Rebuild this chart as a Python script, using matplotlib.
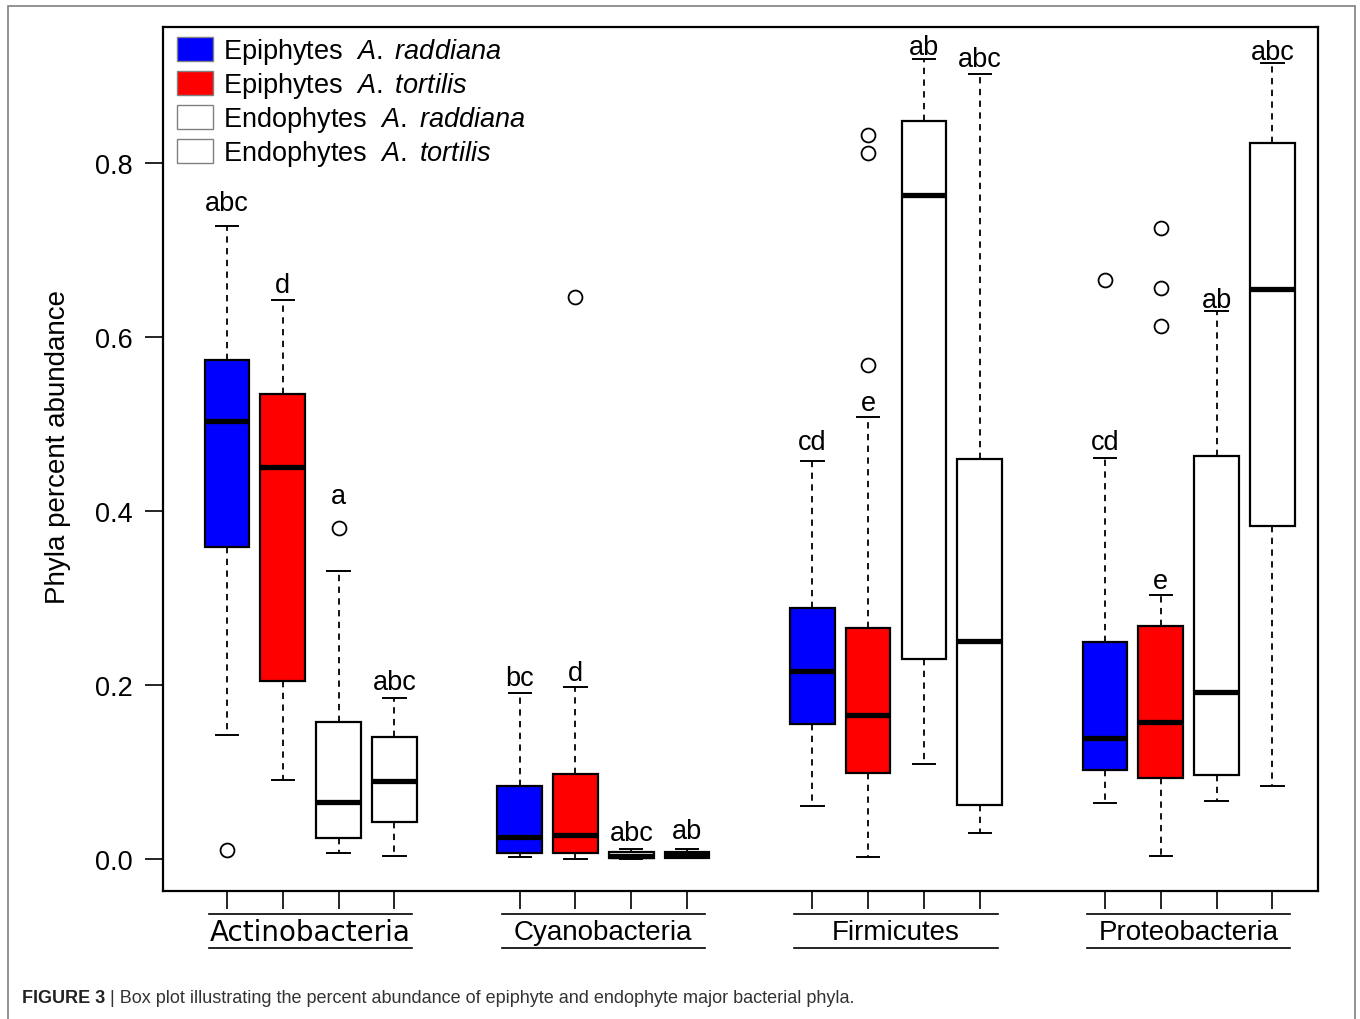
import numpy as np
import matplotlib
matplotlib.use("Agg")
import matplotlib.pyplot as plt
from matplotlib.patches import Patch, Rectangle
from matplotlib.transforms import blended_transform_factory

plt.rcParams['font.family'] = 'Liberation Sans'
plt.rcParams['mathtext.fontset'] = 'custom'
plt.rcParams['mathtext.rm'] = 'Liberation Sans'
plt.rcParams['mathtext.it'] = 'Liberation Sans:italic'

# --- data ---
phyla = ['Actinobacteria', 'Cyanobacteria', 'Firmicutes', 'Proteobacteria']
series = ['Epiphytes', 'Epiphytes', 'Endophytes', 'Endophytes']
species = ['A. raddiana', 'A. tortilis', 'A. raddiana', 'A. tortilis']
colors = ['#0000FF', '#FF0000', 'white', 'white']

whis_lo = [[0.142, 0.091, 0.007, 0.004],
           [0.002, 0.000, 0.000, 0.001],
           [0.061, 0.002, 0.109, 0.030],
           [0.064, 0.004, 0.067, 0.084]]
q1 = [[0.359, 0.205, 0.024, 0.042],
      [0.007, 0.007, 0.001, 0.001],
      [0.155, 0.099, 0.230, 0.062],
      [0.102, 0.093, 0.097, 0.383]]
median = [[0.503, 0.451, 0.066, 0.090],
          [0.025, 0.028, 0.004, 0.005],
          [0.216, 0.165, 0.763, 0.251],
          [0.139, 0.158, 0.192, 0.655]]
q3 = [[0.574, 0.535, 0.157, 0.140],
      [0.084, 0.098, 0.008, 0.008],
      [0.288, 0.265, 0.848, 0.460],
      [0.249, 0.268, 0.463, 0.823]]
whis_hi = [[0.728, 0.642, 0.331, 0.185],
           [0.191, 0.198, 0.012, 0.012],
           [0.457, 0.508, 0.919, 0.902],
           [0.461, 0.303, 0.630, 0.915]]
outliers = [[[0.010], [], [0.380], []],
            [[], [0.646], [], []],
            [[], [0.568, 0.811, 0.832], [], []],
            [[0.665], [0.613, 0.656, 0.725], [], []]]
letters = [['abc', 'd', 'a', 'abc'],
           ['bc', 'd', 'abc', 'ab'],
           ['cd', 'e', 'ab', 'abc'],
           ['cd', 'e', 'ab', 'abc']]
letter_y = [[0.746, 0.652, 0.409, 0.195],
            [0.200, 0.206, 0.022, 0.024],
            [0.471, 0.516, 0.925, 0.911],
            [0.471, 0.312, 0.635, 0.920]]

group_step = 5.245

fig = plt.figure(figsize=(13.6, 10.2), dpi=100)
ax = fig.add_axes([163 / 1360, 1 - 892 / 1020, (1318 - 163) / 1360, (892 - 28) / 1020])

stats, positions, faces = [], [], []
for g in range(4):
    for k in range(4):
        stats.append(dict(whislo=whis_lo[g][k], q1=q1[g][k], med=median[g][k],
                          q3=q3[g][k], whishi=whis_hi[g][k], fliers=outliers[g][k]))
        positions.append(1 + g * group_step + k)
        faces.append(colors[k])

bp = ax.bxp(stats, positions=positions, widths=0.8, capwidths=0.4,
            patch_artist=True, showfliers=True,
            boxprops=dict(edgecolor='black', linewidth=1.6),
            medianprops=dict(color='black', linewidth=3.8, solid_capstyle='butt'),
            whiskerprops=dict(color='black', linewidth=1.3, linestyle=(0, (3.5, 3))),
            capprops=dict(color='black', linewidth=1.4),
            flierprops=dict(marker='o', markersize=10, markerfacecolor='none',
                            markeredgecolor='black', markeredgewidth=1.3))
for patch, fc in zip(bp['boxes'], faces):
    patch.set_facecolor(fc)

# significance letters
for g in range(4):
    for k in range(4):
        ax.text(1 + g * group_step + k, letter_y[g][k], letters[g][k],
                ha='center', va='baseline', fontsize=19.5)

ax.set_xlim(-0.147, 20.552)
ax.set_ylim(-0.0368, 0.9563)
ax.set_yticks([0.0, 0.2, 0.4, 0.6, 0.8])
ax.set_yticklabels(['0.0', '0.2', '0.4', '0.6', '0.8'])
ax.set_xticks(positions)
ax.set_xticklabels([''] * len(positions))
ax.tick_params(axis='both', direction='out', length=13, width=1.2, labelsize=19.5)
ax.tick_params(axis='y', pad=9)
ax.set_ylabel('Phyla percent abundance', fontsize=20, labelpad=17)
ax.yaxis.label.set_y(0.5145)
for s in ax.spines.values():
    s.set_linewidth(1.6)

# group labels with lines above and below
trans = blended_transform_factory(ax.transData, ax.transAxes)
for g, name in enumerate(phyla):
    c = 1 + g * group_step + 1.5
    for yy in (-0.0263, -0.066):
        ax.plot([c - 1.82, c + 1.82], [yy, yy], transform=trans, color='black',
                lw=1.2, clip_on=False)
    fam = 'DejaVu Sans' if name == 'Actinobacteria' else 'Liberation Sans'
    ax.text(c, -0.047, name, transform=trans, ha='center', va='center',
            fontsize=20, family=fam)

# legend
handles = [Patch(facecolor=colors[i], edgecolor='#808080', linewidth=1) for i in range(4)]
labels = [series[i] + '  $\\mathit{' + species[i].replace(' ', '\\ ') + '}$' for i in range(4)]
ax.legend(handles, labels, loc='upper left', bbox_to_anchor=(0.0045, 1), frameon=False,
          fontsize=19.5, handlelength=1.3, handleheight=0.95, handletextpad=0.4,
          labelspacing=0.15, borderpad=0.34, borderaxespad=0.0)

# caption and outer frame
t1 = fig.text(22 / 1360, 1 - 999 / 1020, 'FIGURE 3', fontsize=13, weight='bold',
              va='center', color='#222222')
ax.annotate(' | Box plot illustrating the percent abundance of epiphyte and '
            'endophyte major bacterial phyla.', xy=(1, 0.5), xycoords=t1,
            va='center', ha='left', fontsize=13, color='#333333',
            annotation_clip=False)
fig.patches.append(Rectangle((8 / 1360, -0.02), (1355 - 8) / 1360, 1 - 7 / 1020 + 0.02,
                             transform=fig.transFigure, fill=False,
                             edgecolor='#808080', linewidth=1.2))

fig.savefig('out.png', dpi=100)
